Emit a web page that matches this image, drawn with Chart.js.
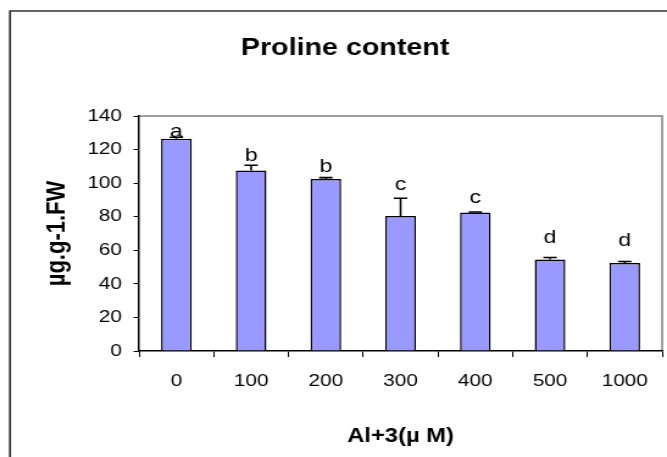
<!DOCTYPE html>
<html>
<head>
<meta charset="utf-8">
<script src="https://cdn.jsdelivr.net/npm/chart.js@4.4.1/dist/chart.umd.min.js"></script>
<style>
  html, body { margin: 0; padding: 0; background: #fff; overflow: hidden; }
  #wrap { width: 547px; height: 457px; transform: scaleX(1.2194); transform-origin: 0 0; }
</style>
</head>
<body>
<!-- the original picture is stretched sideways, so the chart is drawn narrow and scaled -->
<div id="wrap"><canvas id="canvas" width="547" height="457"></canvas></div>
<script>
// data
const doses = ['0', '100', '200', '300', '400', '500', '1000'];
const proline = [126.5, 107.5, 102.5, 80.5, 82.5, 54.5, 52.5];
const errors = [0.8, 3.2, 0.8, 10.5, 0.3, 1.2, 0.8];
const letters = ['a', 'b', 'b', 'c', 'c', 'd', 'd'];
const yTicks = [0, 20, 40, 60, 80, 100, 120, 140];

const FONT = 'Arial, "Liberation Sans", sans-serif';

// error bars + significance letters
const extras = {
    id: 'extras',
    afterDatasetsDraw(chart) {
        let ctx = chart.ctx;
        let y = chart.scales.y;
        let meta = chart.getDatasetMeta(0);
        ctx.save();
        ctx.strokeStyle = '#000';
        ctx.lineWidth = 1.6;
        ctx.fillStyle = '#000';
        ctx.font = '19px ' + FONT;
        ctx.textAlign = 'center';
        ctx.textBaseline = 'alphabetic';
        meta.data.forEach((bar, i) => {
            let x = bar.x;
            let top = proline[i] + errors[i];
            let y0 = y.getPixelForValue(proline[i]);
            let y1 = y.getPixelForValue(top);
            ctx.beginPath();
            ctx.moveTo(x, y0);
            ctx.lineTo(x, y1);
            ctx.moveTo(x - 5.5, y1);
            ctx.lineTo(x + 5.5, y1);
            ctx.stroke();
            // letters sit a bit higher over the shorter bars
            ctx.fillText(letters[i], x, y1 - (130 - top) * 0.2);
        });
        ctx.restore();
    },
    beforeDraw(chart) {
        let ctx = chart.ctx;
        let a = chart.chartArea;
        ctx.save();
        // outer frame (cropped on the right and bottom)
        ctx.strokeStyle = '#333';
        ctx.lineWidth = 1.7;
        ctx.beginPath();
        ctx.moveTo(8.2, 460);
        ctx.lineTo(8.2, 11);
        ctx.lineTo(560, 11);
        ctx.stroke();
        // plot area box, top and right
        ctx.strokeStyle = '#808080';
        ctx.lineWidth = 1.5;
        ctx.beginPath();
        ctx.moveTo(a.left, a.top);
        ctx.lineTo(a.right, a.top);
        ctx.lineTo(a.right, a.bottom);
        ctx.stroke();
        // title
        ctx.fillStyle = '#000';
        ctx.font = 'bold 23.5px ' + FONT;
        ctx.textAlign = 'center';
        ctx.textBaseline = 'alphabetic';
        ctx.fillText('Proline content', 283, 55);
        ctx.restore();
    }
};

new Chart(document.getElementById('canvas').getContext('2d'), {
    type: 'bar',
    data: {
        labels: doses,
        datasets: [{
            data: proline,
            backgroundColor: '#9999FF',
            borderColor: '#000',
            borderWidth: 1.5,
            barPercentage: 0.41,
            categoryPercentage: 1
        }]
    },
    options: {
        responsive: false,
        animation: false,
        devicePixelRatio: 1,
        layout: { padding: { left: 0, right: 4, top: 116, bottom: 0 } },
        plugins: { legend: { display: false }, tooltip: { enabled: false }, title: { display: false } },
        scales: {
            x: {
                grid: { display: true, drawOnChartArea: false, drawTicks: true, tickLength: 6, color: '#000', offset: true },
                border: { display: true, color: '#000', width: 1.5 },
                ticks: { color: '#000', font: { family: FONT, size: 17 }, padding: 14, maxRotation: 0 },
                title: { display: true, text: 'Al+3(\u00b5 M)', color: '#000', font: { family: FONT, size: 19.5, weight: 'bold' }, padding: { top: 4, bottom: 9 } },
                afterFit(s) { s.height = 106; }
            },
            y: {
                min: 0,
                max: 140,
                afterBuildTicks(s) { s.ticks = yTicks.map(v => ({ value: v })); },
                grid: { display: true, drawOnChartArea: false, drawTicks: true, tickLength: 4.5, color: '#000' },
                border: { display: true, color: '#000', width: 1.5 },
                ticks: { color: '#000', font: { family: FONT, size: 17 }, padding: 9.5 },
                title: { display: true, text: '\u00b5g.g-1.FW', color: '#000', font: { family: FONT, size: 22, weight: 'bold' }, padding: { top: 34, bottom: 0 } },
                afterFit(s) { s.width = 114; }
            }
        }
    },
    plugins: [extras]
});
</script>
</body>
</html>
